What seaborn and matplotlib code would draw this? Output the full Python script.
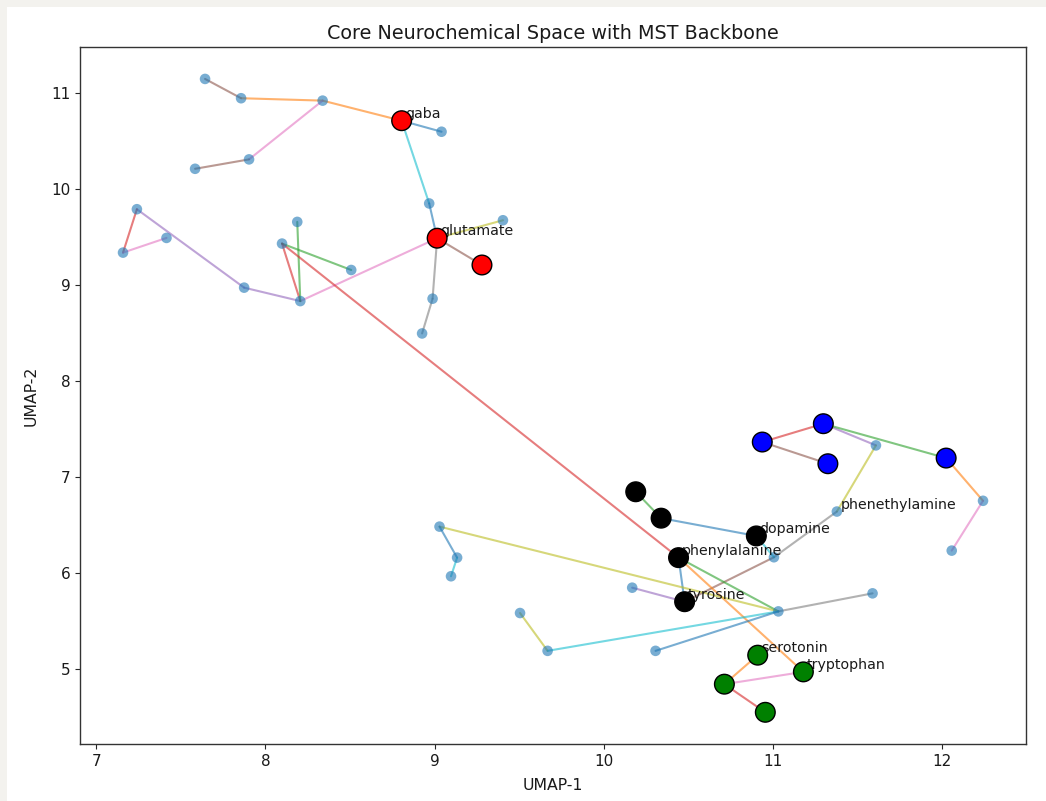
import numpy as np
import pandas as pd
import matplotlib
matplotlib.use("Agg")
import matplotlib.pyplot as plt
import seaborn as sns
from matplotlib.patches import Rectangle

# ---------------- data ----------------
node_x = [7.643, 7.856, 8.338, 9.041, 7.903, 7.584, 8.968, 9.404, 8.988, 8.926,
          7.240, 7.415, 7.158, 8.188, 8.098, 8.507, 7.874, 8.206,
          11.609, 12.242, 12.057, 11.378, 11.006, 10.168, 11.032, 11.589, 10.306,
          9.029, 9.133, 9.097, 9.505, 9.668,
          8.805, 9.015, 9.280,
          11.298, 10.937, 11.325, 12.024,
          10.189, 10.339, 10.902, 10.442, 10.478,
          10.910, 11.180, 10.713, 10.955]
node_y = [11.149, 10.948, 10.923, 10.599, 10.311, 10.213, 9.852, 9.677, 8.860, 8.498,
          9.792, 9.493, 9.340, 9.660, 9.434, 9.159, 8.975, 8.835,
          7.332, 6.755, 6.236, 6.643, 6.167, 5.850, 5.603, 5.791, 5.192,
          6.486, 6.163, 5.969, 5.586, 5.192,
          10.714, 9.490, 9.211,
          7.558, 7.367, 7.141, 7.200,
          6.849, 6.574, 6.389, 6.163, 5.704,
          5.147, 4.973, 4.845, 4.552]
node_group = (["other"] * 32 + ["amino"] * 3 + ["trace"] * 4
              + ["catechol"] * 5 + ["indole"] * 4)
node_label = [""] * 48
node_label[21] = "phenethylamine"
node_label[32] = "gaba"
node_label[33] = "glutamate"
node_label[41] = "dopamine"
node_label[42] = "phenylalanine"
node_label[43] = "tyrosine"
node_label[44] = "serotonin"
node_label[45] = "tryptophan"

edge_src = [0, 1, 2, 32, 32, 2, 4, 6, 33, 33, 33, 8, 33, 17, 16, 10, 12, 17, 17, 14, 14,
            36, 36, 35, 35, 38, 19, 18, 21, 22, 39, 40, 41, 42, 42, 42, 43,
            27, 27, 28, 30, 31, 24, 24, 44, 46, 46]
edge_dst = [1, 2, 32, 3, 6, 4, 5, 33, 7, 34, 8, 9, 17, 16, 10, 12, 11, 14, 13, 15, 42,
            35, 37, 18, 38, 19, 20, 21, 22, 43, 40, 41, 22, 43, 24, 45, 23,
            24, 28, 29, 31, 24, 25, 26, 46, 45, 47]

# ---------------- styling ----------------
edge_colors = ["tab:brown", "tab:orange", "tab:orange", "tab:blue", "tab:cyan", "tab:pink",
               "tab:brown", "tab:blue", "tab:olive", "tab:brown", "tab:gray", "tab:gray",
               "tab:pink", "tab:purple", "tab:purple", "tab:red", "tab:pink", "tab:red",
               "tab:green", "tab:green", "tab:red",
               "tab:red", "tab:brown", "tab:purple", "tab:green", "tab:orange", "tab:pink",
               "tab:olive", "tab:gray", "tab:brown", "tab:green", "tab:blue", "tab:cyan",
               "tab:blue", "tab:green", "tab:orange", "tab:purple",
               "tab:olive", "tab:blue", "tab:cyan", "tab:olive", "tab:cyan", "tab:gray",
               "tab:blue", "tab:orange", "tab:pink", "tab:red"]
group_colors = {"amino": "red", "trace": "blue", "catechol": "black", "indole": "green"}

sns.set_style("white")
plt.rcParams["font.family"] = ["DejaVu Sans"]

nodes = pd.DataFrame({"x": node_x, "y": node_y, "group": node_group, "label": node_label})

rows = []
for i, (a, b) in enumerate(zip(edge_src, edge_dst)):
    rows.append({"edge": i, "order": 0, "x": node_x[a], "y": node_y[a]})
    rows.append({"edge": i, "order": 1, "x": node_x[b], "y": node_y[b]})
edges = pd.DataFrame(rows)

fig = plt.figure(figsize=(10.46, 8.01), dpi=100)
fig.patches.append(Rectangle((0, 0), 1, 1, transform=fig.transFigure,
                             facecolor="#f3f2ee", edgecolor="none", zorder=-10))
fig.patches.append(Rectangle((7 / 1046, 0), 1, 1 - 7 / 801, transform=fig.transFigure,
                             facecolor="white", edgecolor="none", zorder=-9))
ax = fig.add_axes([0.0765, 0.0712, 0.9044, 0.8698])

sns.lineplot(data=edges, x="x", y="y", hue="edge", units="edge", estimator=None,
             sort=False, palette=edge_colors, legend=False, alpha=0.6, lw=1.5,
             ax=ax, zorder=1)

sns.scatterplot(data=nodes, x="x", y="y", color="tab:blue", alpha=0.6, s=58,
                edgecolor="none", ax=ax, zorder=2, legend=False)

big = nodes[nodes["group"] != "other"]
sns.scatterplot(data=big, x="x", y="y", hue="group", palette=group_colors, s=200,
                edgecolor="black", linewidth=1.0, ax=ax, zorder=5, legend=False)

for _, r in nodes[nodes["label"] != ""].iterrows():
    ax.text(r["x"] + 0.02, r["y"] + 0.03, r["label"], fontsize=10.2, zorder=3,
            color="#1a1a1a")

ax.set_title("Core Neurochemical Space with MST Backbone", fontsize=13.8, color="#1a1a1a")
ax.set_xlabel("UMAP-1", fontsize=11.3, color="#1a1a1a", labelpad=7)
ax.set_ylabel("UMAP-2", fontsize=11.3, color="#1a1a1a", labelpad=9)
ax.tick_params(left=True, bottom=True, length=3.5, labelsize=11, labelcolor="#1a1a1a")
for sp in ax.spines.values():
    sp.set_color("#333333")
    sp.set_linewidth(1.0)

fig.savefig("out.png", dpi=100, facecolor="white")
